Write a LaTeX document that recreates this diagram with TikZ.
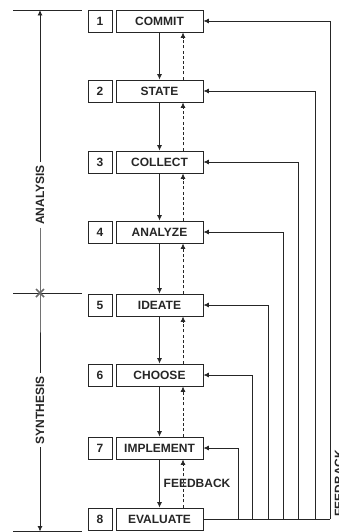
\documentclass[tikz,border=0pt]{standalone}
\usepackage{fontspec}
\setmainfont{Liberation Sans}
\usetikzlibrary{arrows.meta}
\definecolor{ink}{HTML}{262626}
\definecolor{crossgray}{HTML}{6A6A6A}
\begin{document}
\begin{tikzpicture}[x=1pt,y=-1pt,
  numbox/.style={draw=ink, line width=0.9pt, minimum width=24pt, minimum height=22pt,
    inner sep=0pt, font=\bfseries\fontsize{12}{14}\selectfont, text=ink},
  stepbox/.style={numbox, minimum width=87pt},
  wire/.style={draw=ink, line width=0.75pt},
  flow/.style={wire, -{Latex[length=5.5pt,width=5pt]}},
  back/.style={flow, dash pattern=on 3pt off 2.2pt},
  lbl/.style={font=\bfseries\fontsize{12}{14}\selectfont, text=ink, inner sep=1pt},
  phase/.style={lbl, rotate=90, fill=white, inner sep=3pt}
]
\useasboundingbox (0,0) rectangle (339,532);

% numbered steps
\foreach \i/\t/\y in {1/COMMIT/21, 2/STATE/91, 3/COLLECT/162, 4/ANALYZE/232,
                      5/IDEATE/305, 6/CHOOSE/375, 7/IMPLEMENT/448, 8/EVALUATE/519} {
  \node[numbox] (n\i) at (100,\y) {\i};
  \node[stepbox] (s\i) at (159.5,\y) {\t};
}

% forward flow and dashed return between consecutive steps
\foreach \i/\j in {1/2, 2/3, 3/4, 4/5, 5/6, 6/7, 7/8} {
  \draw[flow] (s\i.south) -- (s\j.north);
  \draw[back] ([xshift=23.5pt]s\j.north) -- ([xshift=23.5pt]s\i.south);
}
\node[lbl] (fbmid) at (197,483) {FEEDBACK};

% feedback bus from EVALUATE back to every earlier step
\foreach \i/\x in {1/330, 2/315, 3/298.5, 4/283.5, 5/268, 6/252.5, 7/238} {
  \coordinate (v\i) at (\x,519);
  \draw[flow] (v\i) |- (s\i.east);
}
\draw[wire] (s8.east) -- (v1);
\node[lbl, rotate=90] (fbside) at (339,483) {FEEDBACK};

% analysis / synthesis span on the left
\coordinate (ttop) at (40,10);
\coordinate (tmid) at (40,293);
\coordinate (tbot) at (40,531.5);
\coordinate (htl) at (13,10);   \coordinate (htr) at (82,10);
\coordinate (hml) at (13,293);  \coordinate (hmr) at (82,293);
\coordinate (hbl) at (13,531.5);\coordinate (hbr) at (82,531.5);
\draw[wire] (htl) -- (htr);
\draw[wire] (hml) -- (hmr);
\draw[wire] (hbl) -- (hbr);

\node[phase] (ana) at (40,195) {ANALYSIS};
\node[phase] (syn) at (40,410) {SYNTHESIS};
\draw[flow] (ana.east) -- (ttop);
\draw[wire] (ana.west) -- (tmid) -- (syn.east);
\draw[flow] (syn.west) -- (tbot);

% cross marking the phase boundary
\draw[crossgray, line width=1.6pt] (tmid) ++(-4,-4) -- ++(8,8);
\draw[crossgray, line width=1.6pt] (tmid) ++(-4,4) -- ++(8,-8);
\end{tikzpicture}
\end{document}
